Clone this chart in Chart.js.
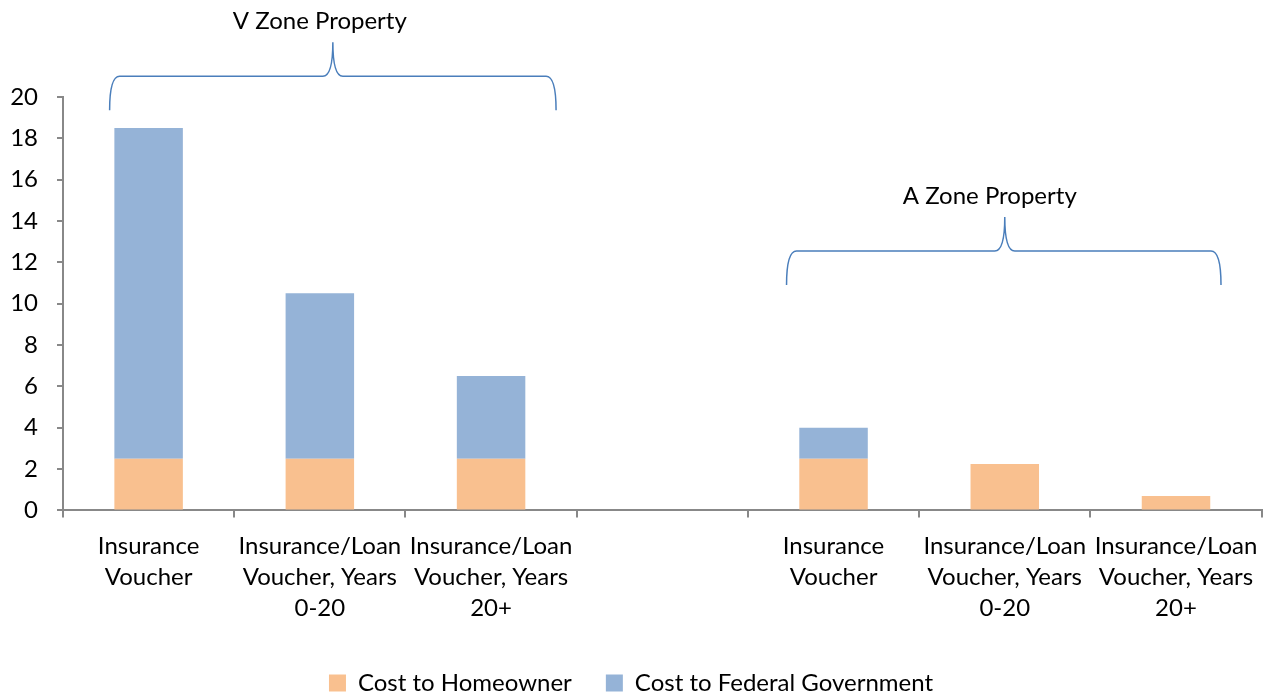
<!DOCTYPE html>
<html>
<head>
<meta charset="utf-8">
<script src="https://cdn.jsdelivr.net/npm/chart.js@4"></script>
<style>
  html, body { margin: 0; padding: 0; background: #fff; }
  #wrap { width: 1271px; height: 696px; }
</style>
</head>
<body>
<div id="wrap"><canvas id="myChart" width="1271" height="696"></canvas></div>
<script>
const categories = [
  ['Insurance', 'Voucher'],
  ['Insurance/Loan', 'Voucher, Years', '0-20'],
  ['Insurance/Loan', 'Voucher, Years', '20+'],
  '',
  ['Insurance', 'Voucher'],
  ['Insurance/Loan', 'Voucher, Years', '0-20'],
  ['Insurance/Loan', 'Voucher, Years', '20+']
];
const homeownerCost = [2.5, 2.5, 2.5, null, 2.5, 2.25, 0.7];
const federalCost = [16, 8, 4, null, 1.5, 0, 0];
const groupLabels = ['V Zone Property', 'A Zone Property'];

const axisColor = '#888888';
const fontFamily = 'Lato, "Open Sans", sans-serif';

// curly brackets over the two groups
const bracketPlugin = {
  id: 'brackets',
  afterDraw(chart) {
    const ctx = chart.ctx;
    const x = chart.scales.x;
    const y = chart.scales.y;
    const groups = [
      { from: x.getPixelForValue(0) - 39, to: x.getPixelForValue(2) + 65, mid: x.getPixelForValue(1) + 13, level: 21, shift: -13, label: groupLabels[0] },
      { from: x.getPixelForValue(4) - 47, to: x.getPixelForValue(6) + 45, mid: x.getPixelForValue(5), level: 12.55, shift: -15, label: groupLabels[1] }
    ];
    ctx.save();
    ctx.strokeStyle = '#4a7ebb';
    ctx.lineWidth = 1.5;
    groups.forEach(g => {
      const yl = y.getPixelForValue(g.level);
      const r = 10;
      ctx.beginPath();
      ctx.moveTo(g.from, yl + 34);
      ctx.quadraticCurveTo(g.from, yl, g.from + r, yl);
      ctx.lineTo(g.mid - r, yl);
      ctx.quadraticCurveTo(g.mid, yl, g.mid, yl - 34);
      ctx.quadraticCurveTo(g.mid, yl, g.mid + r, yl);
      ctx.lineTo(g.to - r, yl);
      ctx.quadraticCurveTo(g.to, yl, g.to, yl + 34);
      ctx.stroke();
      ctx.fillStyle = '#000';
      ctx.font = '24px ' + fontFamily;
      ctx.textAlign = 'center';
      ctx.textBaseline = 'middle';
      ctx.fillText(g.label, g.mid + g.shift, yl - 55);
    });
    ctx.restore();
  }
};

const config = {
  type: 'bar',
  data: {
    labels: categories,
    datasets: [
      {
        label: 'Cost to Homeowner',
        data: homeownerCost,
        backgroundColor: '#f9c08f'
      },
      {
        label: 'Cost to Federal Government',
        data: federalCost,
        backgroundColor: '#95b3d7'
      }
    ]
  },
  options: {
    responsive: false,
    animation: false,
    datasets: {
      bar: { categoryPercentage: 0.4, barPercentage: 1.0 }
    },
    layout: { padding: { top: 97, right: 9, left: 0, bottom: -9 } },
    plugins: {
      legend: {
        position: 'bottom',
        labels: {
          boxWidth: 17,
          boxHeight: 17,
          padding: 34,
          color: '#000',
          font: { family: fontFamily, size: 24 }
        }
      },
      tooltip: { enabled: false }
    },
    scales: {
      x: {
        stacked: true,
        grid: { offset: true, drawOnChartArea: false, drawTicks: true, tickLength: 7, color: axisColor, lineWidth: 2 },
        border: { color: axisColor, width: 2 },
        ticks: { color: '#000', maxRotation: 0, autoSkip: false, padding: 13, font: { family: fontFamily, size: 24, lineHeight: 1.3 } }
      },
      y: {
        stacked: true,
        min: 0,
        max: 20,
        afterFit(scale) { scale.width = 63; },
        grid: { drawOnChartArea: false, drawTicks: true, tickLength: 6, color: axisColor, lineWidth: 2 },
        border: { color: axisColor, width: 2 },
        ticks: { stepSize: 2, color: '#000', padding: 19, font: { family: fontFamily, size: 24 } }
      }
    }
  },
  plugins: [bracketPlugin]
};

const myChart = new Chart(document.getElementById('myChart'), config);
</script>
</body>
</html>
